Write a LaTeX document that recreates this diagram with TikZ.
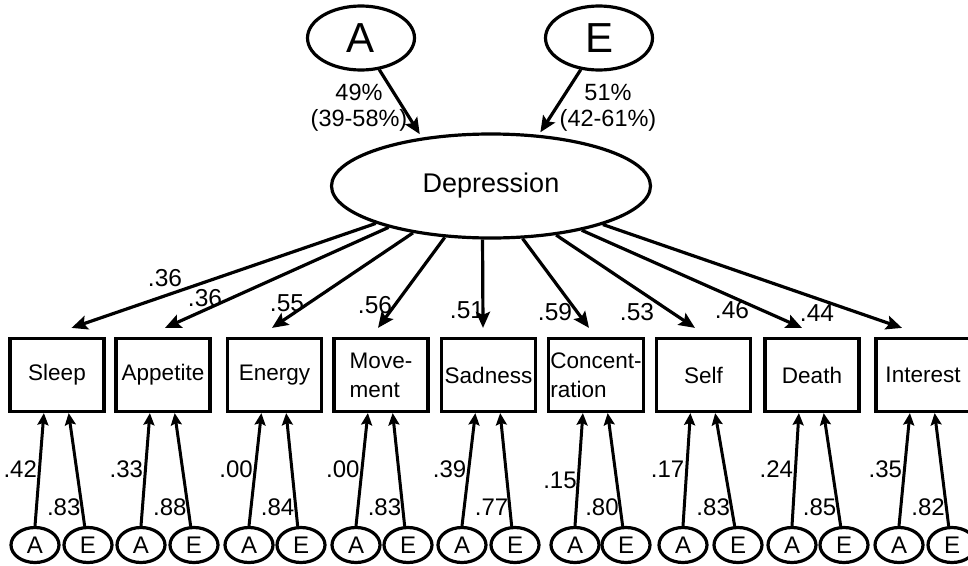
\documentclass[tikz,border=0pt]{standalone}
\usepackage{fontspec}
\setmainfont{Liberation Sans}
\usetikzlibrary{arrows.meta,shapes.geometric,calc}

\tikzset{
    latent/.style={ellipse,draw,line width=3.2pt,inner sep=0pt},
    genvar/.style={latent,minimum width=107pt,minimum height=64pt,font=\fontsize{42}{44}\selectfont},
    resvar/.style={latent,minimum width=48pt,minimum height=35pt,font=\fontsize{24}{26}\selectfont},
    symptom/.style={rectangle,draw,line width=3.2pt,minimum width=94pt,minimum height=73pt,inner sep=2pt,align=center,font=\fontsize{22.5}{29}\selectfont},
    coef/.style={inner sep=0pt,font=\fontsize{24.5}{26}\selectfont},
    rcoef/.style={inner sep=1pt,font=\fontsize{24}{26}\selectfont},
    loadarrow/.style={-{Stealth[length=16pt,width=14pt,inset=3pt]},line width=3.2pt},
    resarrow/.style={-{Stealth[length=12pt,width=11pt,inset=2pt]},line width=3pt}
}

\begin{document}
\begin{tikzpicture}[x=1pt,y=-1pt]
    \useasboundingbox (0,0) rectangle (968,565);

    % Genetic and environmental factors
    \node[genvar] (gA) at (361,38) {A};
    \node[genvar] (gE) at (599,38) {E};

    % Common factor
    \node[latent,minimum width=319pt,minimum height=104pt,font=\fontsize{27}{30}\selectfont] (dep) at (491,186) {Depression};

    \draw[loadarrow,shorten >=4pt] (gA.300) -- (dep.145);
    \draw[loadarrow,shorten >=3pt] (gE.240) -- (dep.47);
    \node[align=center,inner sep=0pt,font=\fontsize{23.5}{26}\selectfont] (pA) at (359,108) {49\%\\(39-58\%)};
    \node[align=center,inner sep=0pt,font=\fontsize{23.5}{26}\selectfont] (pE) at (608,108) {51\%\\(42-61\%)};

    % Symptom boxes
    \node[symptom] (sleep) at (57,375) {Sleep};
    \node[symptom] (appet) at (163,375) {Appetite};
    \node[symptom] (energy) at (274.5,375) {Energy};
    \node[symptom,align=left] (move) at (381,375) {Move-\\ment};
    \node[symptom] (sad) at (488.5,375) {Sadness};
    \node[symptom,align=left] (conc) at (596,375) {Concent-\\ration};
    \node[symptom] (self) at (703.5,375) {Self};
    \node[symptom] (death) at (812,375) {Death};
    \node[symptom] (inter) at (923,375) {Interest};

    % Loadings on the common factor
    \draw[loadarrow] (dep.198) -- ($(sleep.north)+(14.5,-9)$);
    \draw[loadarrow] (dep.202) -- ($(appet.north)+(2,-9)$);
    \draw[loadarrow] (dep.211) -- ($(energy.north)+(-2.5,-9)$);
    \draw[loadarrow] (dep.228) -- ($(move.north)+(-3,-9)$);
    \draw[loadarrow] (dep.261) -- ($(sad.north)+(-5.5,-9)$);
    \draw[loadarrow] (dep.301) -- ($(conc.north)+(-7,-9)$);
    \draw[loadarrow] (dep.323) -- ($(self.north)+(-8.5,-9)$);
    \draw[loadarrow] (dep.334) -- ($(death.north)+(-10,-9)$);
    \draw[loadarrow] (dep.341) -- ($(inter.north)+(-21,-9)$);

    \node[coef] (l1) at (165,278) {.36};
    \node[coef] (l2) at (205,298) {.36};
    \node[coef] (l3) at (287,303) {.55};
    \node[coef] (l4) at (375,305) {.56};
    \node[coef] (l5) at (467,310) {.51};
    \node[coef] (l6) at (555,312) {.59};
    \node[coef] (l7) at (637,312) {.53};
    \node[coef] (l8) at (732,310) {.46};
    \node[coef] (l9) at (817,313) {.44};

    % Specific A and E for each symptom
    \node[resvar] (a1) at (35,545) {A};
    \node[resvar] (e1) at (88,545) {E};
    \draw[resarrow] (a1.north) -- (sleep.251) node[rcoef,pos=0.5,left] (ra1) {.42};
    \draw[resarrow] (e1.100) -- (sleep.287) node[rcoef,pos=0.17,left,inner sep=0pt] (re1) {.83};

    \node[resvar] (a2) at (141,545) {A};
    \node[resvar] (e2) at (194,545) {E};
    \draw[resarrow] (a2.north) -- (appet.251) node[rcoef,pos=0.5,left] (ra2) {.33};
    \draw[resarrow] (e2.100) -- (appet.287) node[rcoef,pos=0.17,left,inner sep=0pt] (re2) {.88};

    \node[resvar] (a3) at (249,545) {A};
    \node[resvar] (e3) at (301,545) {E};
    \draw[resarrow] (a3.north) -- (energy.251) node[rcoef,pos=0.5,left] (ra3) {.00};
    \draw[resarrow] (e3.100) -- (energy.287) node[rcoef,pos=0.17,left,inner sep=0pt] (re3) {.84};

    \node[resvar] (a4) at (356,545) {A};
    \node[resvar] (e4) at (408,545) {E};
    \draw[resarrow] (a4.north) -- (move.251) node[rcoef,pos=0.5,left] (ra4) {.00};
    \draw[resarrow] (e4.100) -- (move.287) node[rcoef,pos=0.17,left,inner sep=0pt] (re4) {.83};

    \node[resvar] (a5) at (462,545) {A};
    \node[resvar] (e5) at (515,545) {E};
    \draw[resarrow] (a5.north) -- (sad.251) node[rcoef,pos=0.5,left] (ra5) {.39};
    \draw[resarrow] (e5.100) -- (sad.287) node[rcoef,pos=0.17,left,inner sep=0pt] (re5) {.77};

    \node[resvar] (a6) at (575,545) {A};
    \node[resvar] (e6) at (626,545) {E};
    \draw[resarrow] (a6.north) -- (conc.251) node[rcoef,pos=0.4,left,inner sep=0pt] (ra6) {.15};
    \draw[resarrow] (e6.100) -- (conc.287) node[rcoef,pos=0.17,left,inner sep=0pt] (re6) {.80};

    \node[resvar] (a7) at (683,545) {A};
    \node[resvar] (e7) at (738,545) {E};
    \draw[resarrow] (a7.north) -- (self.251) node[rcoef,pos=0.5,left] (ra7) {.17};
    \draw[resarrow] (e7.100) -- (self.287) node[rcoef,pos=0.17,left,inner sep=0pt] (re7) {.83};

    \node[resvar] (a8) at (792,545) {A};
    \node[resvar] (e8) at (844,545) {E};
    \draw[resarrow] (a8.north) -- (death.251) node[rcoef,pos=0.5,left] (ra8) {.24};
    \draw[resarrow] (e8.100) -- (death.287) node[rcoef,pos=0.17,left,inner sep=0pt] (re8) {.85};

    \node[resvar] (a9) at (899,545) {A};
    \node[resvar] (e9) at (952,545) {E};
    \draw[resarrow] (a9.north) -- (inter.251) node[rcoef,pos=0.5,left] (ra9) {.35};
    \draw[resarrow] (e9.100) -- (inter.287) node[rcoef,pos=0.17,left,inner sep=0pt] (re9) {.82};
\end{tikzpicture}
\end{document}
